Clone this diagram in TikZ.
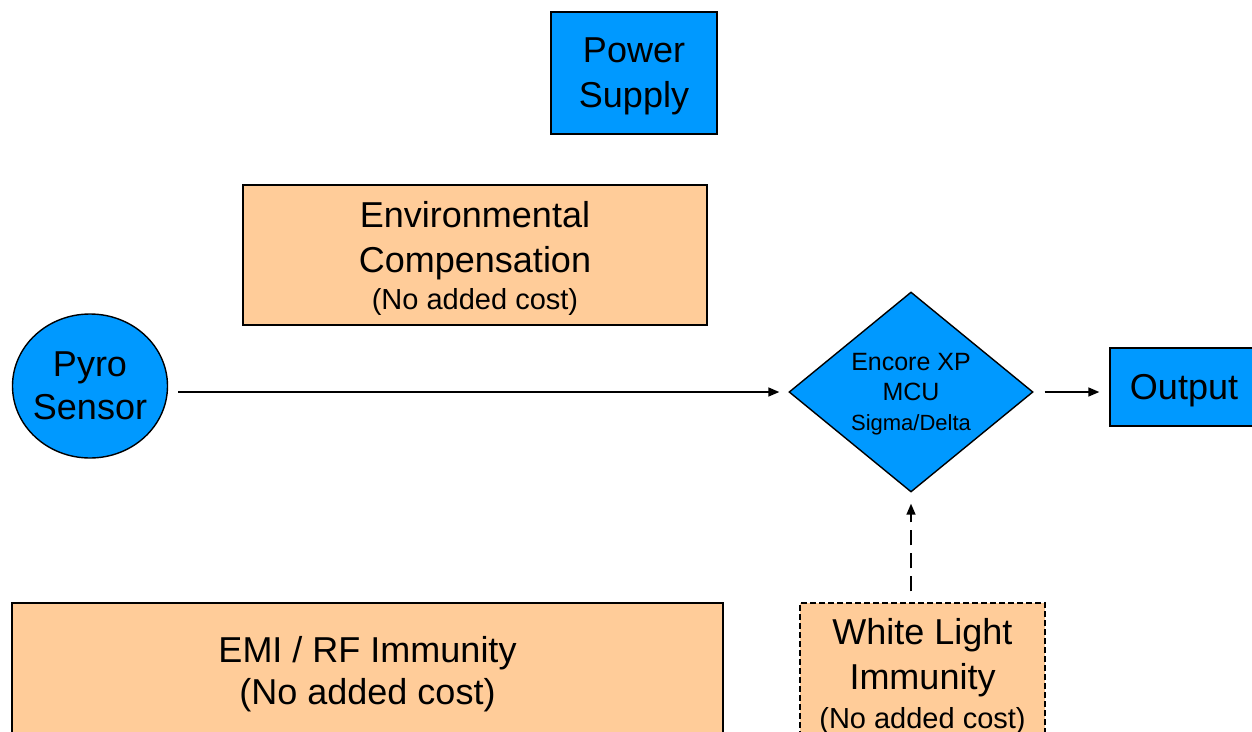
\documentclass[tikz,border=0pt]{standalone}
\usepackage{fontspec}
\setmainfont{Liberation Sans}
\usetikzlibrary{shapes.geometric,arrows.meta}

\definecolor{sysblue}{RGB}{0,153,255}
\definecolor{systan}{RGB}{255,204,153}

\tikzset{
  bluebox/.style={draw, line width=1.4pt, fill=sysblue, align=center, inner sep=0pt},
  tanbox/.style={draw, line width=1.4pt, fill=systan, align=center, inner sep=0pt},
  bigtext/.style={font=\fontsize{36}{45}\selectfont},
  flow/.style={line width=1.5pt, -{Triangle[length=11pt,width=9pt]}},
}

\newcommand{\nocost}[1]{{\fontsize{#1}{#1}\selectfont (No added cost)}}

\begin{document}
\begin{tikzpicture}[x=1pt,y=-1pt]
  \useasboundingbox (0,0) rectangle (1252,731);
  \clip (0,0) rectangle (1252,731);

  % blocks
  \node[bluebox, bigtext, text depth=-0.4pt, minimum width=166pt, minimum height=122pt] (power) at (634,73) {Power\\Supply};
  \node[tanbox, bigtext, text depth=-1.9pt, minimum width=464pt, minimum height=140pt] (envcomp) at (475,255)
       {Environmental\\Compensation\\[-8pt]\nocost{29}};
  \node[bluebox, bigtext, ellipse, text depth=-6pt, inner xsep=-3pt, minimum width=155pt, minimum height=144pt] (pyro) at (90,386)
       {Pyro\\[-2pt]Sensor};
  \node[bluebox, diamond, text depth=-3.4pt, minimum width=244pt, minimum height=200pt, font=\fontsize{25}{30}\selectfont] (mcu) at (911,392)
       {Encore XP\\MCU\\{\fontsize{22}{30}\selectfont Sigma/Delta}};
  \node[bluebox, bigtext, text depth=-0.4pt, minimum width=148pt, minimum height=78pt] (output) at (1184,387) {Output};
  \node[tanbox, bigtext, dash pattern=on 6pt off 3pt, minimum width=245pt, minimum height=147pt] (whitelight) at (922.5,676.5)
       {White Light\\Immunity\\[-6pt]\nocost{29}};
  \node[tanbox, bigtext, text depth=0.6pt, minimum width=711pt, minimum height=136pt] (emi) at (367.5,671)
       {EMI / RF Immunity\\[-3pt](No added cost)};

  % connectors
  \draw[flow, shorten <=10pt, shorten >=9pt] (pyro.east |- mcu.west) -- (mcu.west);
  \draw[flow, shorten <=11pt, shorten >=10pt] (mcu.east) -- (mcu.east -| output.west);
  \draw[flow, dash pattern=on 15pt off 8pt, shorten <=11pt, shorten >=11pt] (whitelight.north -| mcu.south) -- (mcu.south);
\end{tikzpicture}
\end{document}
